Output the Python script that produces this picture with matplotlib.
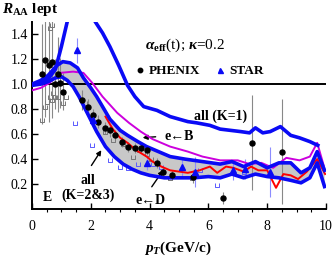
import numpy as np
import matplotlib
matplotlib.use("Agg")
import matplotlib.pyplot as plt
from matplotlib.path import Path
from matplotlib.lines import Line2D

plt.rcParams["font.family"] = ["Liberation Serif", "DejaVu Serif"]
plt.rcParams["mathtext.fontset"] = "custom"
plt.rcParams["mathtext.rm"] = "Liberation Serif:bold"
plt.rcParams["mathtext.it"] = "Liberation Serif:bold:italic"
plt.rcParams["mathtext.bf"] = "Liberation Serif:bold"

# curve "all (K=1)"
k1_x = [0.0, 0.3, 0.55, 0.8, 1.0, 1.2, 1.45, 1.7, 1.95, 2.15, 2.4, 2.65, 2.95, 3.25, 3.5, 3.8,
        4.25, 4.7, 5.0, 5.3, 5.6, 6.05, 6.4, 6.75, 7.1, 7.4, 7.6, 7.85, 8.1, 8.45, 8.8, 9.1, 9.45, 9.72]
k1_y = [1.0, 1.01, 1.04, 1.12, 1.3, 1.5, 1.68, 1.72, 1.62, 1.5, 1.41, 1.3, 1.15, 0.99, 0.9, 0.82,
        0.79, 0.74, 0.72, 0.7, 0.69, 0.67, 0.64, 0.63, 0.62, 0.61, 0.65, 0.61, 0.62, 0.66, 0.59, 0.57, 0.54, 0.51]

# band "all (K=2&3)"
up_x = [0.0, 0.3, 0.55, 0.85, 1.05, 1.3, 1.55, 1.75, 2.0, 2.2, 2.4, 2.65, 3.0, 3.25, 3.6, 3.9,
        4.3, 4.7, 5.2, 5.8, 6.4, 6.8, 7.2, 7.6, 8.0, 8.4, 8.8, 9.15, 9.45, 9.7, 9.95]
up_y = [1.0, 1.03, 1.07, 1.15, 1.18, 1.17, 1.13, 1.05, 0.97, 0.9, 0.82, 0.72, 0.63, 0.59, 0.54, 0.5,
        0.46, 0.42, 0.4, 0.38, 0.36, 0.38, 0.34, 0.38, 0.33, 0.37, 0.37, 0.29, 0.33, 0.46, 0.31]
lo_x = [0.0, 0.3, 0.55, 0.8, 1.0, 1.2, 1.4, 1.6, 1.9, 2.2, 2.5, 2.8, 3.1, 3.4, 3.7, 4.0,
        4.5, 5.0, 5.5, 6.0, 6.4, 6.8, 7.2, 7.6, 8.0, 8.4, 8.8, 9.15, 9.45, 9.7, 9.95]
lo_y = [0.99, 1.0, 1.02, 1.05, 1.06, 1.03, 0.98, 0.9, 0.76, 0.62, 0.5, 0.42, 0.36, 0.32, 0.29, 0.27,
        0.25, 0.25, 0.25, 0.26, 0.25, 0.28, 0.25, 0.28, 0.26, 0.25, 0.23, 0.21, 0.25, 0.37, 0.18]

# e <- D (red) and e <- B (magenta)
red_x = [2.5, 2.75, 3.0, 3.25, 3.55, 3.9, 4.1, 4.4, 4.7, 5.0, 5.3, 5.7, 6.05, 6.3, 6.6, 6.85,
         7.2, 7.45, 7.7, 8.0, 8.3, 8.55, 8.8, 9.05, 9.35, 9.7, 9.97]
red_y = [0.74, 0.64, 0.57, 0.53, 0.47, 0.42, 0.38, 0.34, 0.31, 0.3, 0.29, 0.31, 0.34, 0.29, 0.34, 0.33,
         0.3, 0.34, 0.31, 0.31, 0.17, 0.28, 0.27, 0.24, 0.3, 0.4, 0.28]
mg_x = [0.0, 0.3, 0.6, 0.95, 1.4, 1.75, 2.05, 2.4, 2.9, 3.3, 3.7, 4.1, 4.7, 5.3, 5.8, 6.4,
        7.0, 7.4, 7.8, 8.2, 8.65, 9.1, 9.45, 9.7, 9.92]
mg_y = [0.95, 0.97, 1.01, 1.09, 1.1, 1.09, 1.01, 0.9, 0.77, 0.69, 0.62, 0.56, 0.5, 0.46, 0.42, 0.39,
        0.39, 0.36, 0.37, 0.33, 0.41, 0.39, 0.42, 0.53, 0.35]

# PHENIX data
ph_x = [0.33, 0.45, 0.57, 0.68, 0.8, 0.88, 0.95, 1.07, 1.7, 1.9, 2.07, 2.24, 2.48, 2.65, 2.82,
        3.06, 3.27, 3.5, 3.7, 3.9, 4.25, 4.46, 4.76, 5.48, 6.5, 7.5, 8.5]
ph_y = [1.08, 1.19, 1.15, 1.18, 1.0, 1.08, 1.01, 0.94, 0.87, 0.82, 0.75, 0.7, 0.65, 0.63, 0.59,
        0.54, 0.5, 0.49, 0.49, 0.47, 0.37, 0.3, 0.27, 0.26, 0.09, 0.53, 0.46]
ph_err = [0.4, 0.45, 0.45, 0.45, 0.2, 0.3, 0.2, 0.15, 0.08, 0.06, 0.05, 0.05, 0.05, 0.05, 0.04,
          0.04, 0.04, 0.04, 0.04, 0.04, 0.04, 0.04, 0.04, 0.05, 0.05, 0.38, 0.42]

# STAR data
st_x = [1.53, 2.07, 3.9, 5.1, 5.55, 6.85, 7.25, 8.1]
st_y = [1.27, 0.71, 0.37, 0.34, 0.3, 0.31, 0.32, 0.3]
st_err = [0.1, 0.05, 0.06, 0.08, 0.12, 0.08, 0.08, 0.2]

# systematic brackets
gu_x = [0.34, 0.44, 0.51, 0.6, 0.68, 0.72, 0.78, 0.88, 1.05, 1.05, 1.15, 1.8, 2.5, 2.76, 3.1, 3.44,
        3.65, 3.9, 4.05, 4.69, 5.44, 0.62, 0.68]
gu_y = [0.71, 0.82, 0.86, 0.9, 0.87, 0.93, 0.9, 0.9, 0.94, 0.85, 0.9, 0.85, 0.62, 0.55, 0.52, 0.42,
        0.47, 0.44, 0.4, 0.25, 0.25, 1.45, 1.47]
bu_x = [1.46, 2.04, 2.65, 2.99, 3.27, 3.6, 4.12, 4.4, 5.71, 6.29, 7.2]
bu_y = [0.69, 0.51, 0.39, 0.34, 0.33, 0.36, 0.36, 0.34, 0.31, 0.19, 0.3]

blue = "#0a0af5"
u_marker = Path([(-1, 1), (-1, -1), (1, -1), (1, 1)],
                [Path.MOVETO, Path.LINETO, Path.LINETO, Path.LINETO])

fig = plt.figure(figsize=(3.33, 2.61), dpi=100)
ax = fig.add_axes([0.096, 0.199, 0.883, 0.718])

ax.fill(up_x + lo_x[::-1], up_y + lo_y[::-1], color="#c8c8c8", lw=0, zorder=1)

ax.errorbar(ph_x, ph_y, yerr=ph_err, fmt="none", ecolor="#888888", elinewidth=0.8, zorder=2)
ax.errorbar(st_x, st_y, yerr=st_err, fmt="none", ecolor="#8c8cff", elinewidth=0.8, zorder=2)
ax.plot(gu_x, gu_y, ls="none", marker=u_marker, ms=3, mfc="none", mec="#777777", mew=0.7, zorder=2)
ax.plot(bu_x, bu_y, ls="none", marker=u_marker, ms=3, mfc="none", mec="#5a5aff", mew=0.7, zorder=2)

ax.axhline(1.0, color="black", lw=1.4, zorder=3)
ax.plot(mg_x, mg_y, color="#cc00dd", lw=1.4, zorder=4)
ax.plot(red_x, red_y, color="#ff0000", lw=1.4, zorder=4)
ax.plot(up_x, up_y, color=blue, lw=2.6, zorder=5)
ax.plot(lo_x, lo_y, color=blue, lw=2.6, zorder=5)
ax.plot(k1_x, k1_y, color=blue, lw=2.6, zorder=5)

ax.plot(ph_x, ph_y, ls="none", marker="o", ms=3.6, color="black", zorder=6)
ax.plot(st_x, st_y, ls="none", marker="^", ms=4, color=blue, zorder=6)

ax.set_xlim(0, 10)
ax.set_ylim(0, 1.5)
ax.set_xticks([0, 2, 4, 6, 8, 10])
ax.set_xticks(np.arange(0, 10.01, 0.5), minor=True)
ax.set_yticks([0.2, 0.4, 0.6, 0.8, 1.0, 1.2, 1.4])
ax.set_xticklabels(["0", "2", "4", "6", "8", "10"])
ax.set_yticklabels(["0.2", "0.4", "0.6", "0.8", "1.0", "1.2", "1.4"])
ax.tick_params(direction="in", labelsize=10, width=1.0)
ax.tick_params(axis="x", which="major", length=4, pad=8)
ax.tick_params(axis="x", which="minor", length=2.5, width=0.8)
ax.tick_params(axis="y", length=4, pad=3)
for s in ["top", "right"]:
    ax.spines[s].set_visible(False)
for s in ["left", "bottom"]:
    ax.spines[s].set_linewidth(1.4)

# annotations
bold = dict(fontweight="bold", fontsize=10)
ax.text(3.84, 1.31, r"$\alpha_{\rm eff}$(t); $\kappa$=0.2", fontsize=11, va="center", ha="left")
handles = [Line2D([], [], ls="none", marker="o", ms=3.2, color="black"),
           Line2D([], [], ls="none", marker="^", ms=3.6, color=blue)]
ax.legend(handles, ["PHENIX", "STAR"], ncol=2, frameon=False, loc="center left",
          bbox_to_anchor=(0.33, 0.735), handlelength=0.6, handletextpad=0.4,
          columnspacing=1.2, borderpad=0, prop=dict(weight="bold", size=9.5))
ax.text(5.5, 0.745, "all (K=1)", ha="left", va="center", **bold)
ax.text(4.52, 0.58, "e\u2190B", ha="left", va="center", **bold)
ax.annotate("", xy=(3.67, 0.57), xytext=(4.3, 0.58),
            arrowprops=dict(arrowstyle="-|>", color="black", lw=1.0, mutation_scale=7))
ax.text(1.9, 0.17, "all\n(K=2&3)", ha="center", va="center", linespacing=1.15, **bold)
ax.annotate("", xy=(2.41, 0.49), xytext=(1.97, 0.33),
            arrowprops=dict(arrowstyle="-|>", color="black", lw=1.0, mutation_scale=7))
ax.text(4.02, 0.07, "e\u2190D", ha="center", va="center", **bold)
ax.annotate("", xy=(4.52, 0.33), xytext=(4.02, 0.16),
            arrowprops=dict(arrowstyle="-|>", color="black", lw=1.0, mutation_scale=7))
ax.text(0.51, 0.09, "E", ha="center", va="center", **bold)

fig.text(0.006, 0.965, r"$R_{\rm AA}$ lept", fontsize=11, fontweight="bold", va="center", ha="left")
fig.text(0.535, 0.05, r"$p_T$(GeV/c)", fontsize=11, fontweight="bold", va="center", ha="center")

fig.savefig("out.png", dpi=100)
